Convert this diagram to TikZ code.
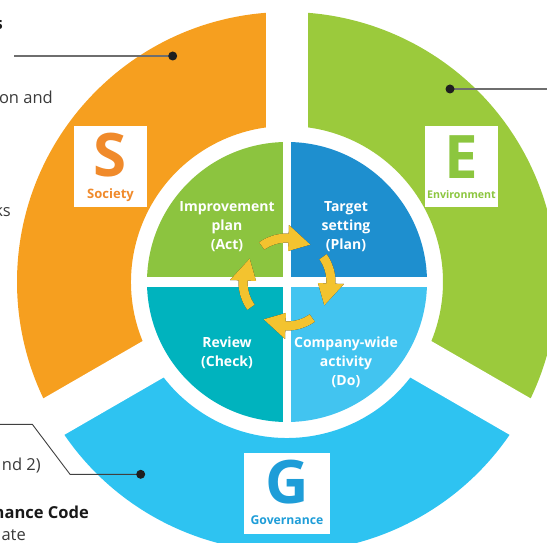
\documentclass[tikz,border=0pt]{standalone}
\usepackage{fontspec}
\setmainfont{Open Sans}
\usetikzlibrary{calc}
\definecolor{cOrange}{HTML}{F69F1F}
\definecolor{cGreen}{HTML}{9BCA3C}
\definecolor{cBlue}{HTML}{2EC3F1}
\definecolor{qAct}{HTML}{8CC43F}
\definecolor{qPlan}{HTML}{1E8FCF}
\definecolor{qCheck}{HTML}{00B3BE}
\definecolor{qDo}{HTML}{42C4F0}
\definecolor{cArrow}{HTML}{F3C32F}
\definecolor{sLetter}{HTML}{F08A2B}
\definecolor{eLetter}{HTML}{8CC63F}
\definecolor{gLetter}{HTML}{1E9DD8}
\definecolor{sideText}{HTML}{3A3A3A}
\definecolor{leaderCol}{HTML}{6E6E6E}
\tikzset{
  quadtext/.style={text=white, align=center, inner sep=0pt,
    font=\bfseries\fontsize{14}{19}\selectfont},
  labelbox/.style={fill=white, minimum width=73pt, minimum height=81pt, inner sep=0pt},
  bigletter/.style={anchor=base, inner sep=0pt, text depth=0pt, font=\bfseries\fontsize{60}{60}\selectfont},
  boxlabel/.style={anchor=base, inner sep=0pt, text height=8pt, font=\bfseries\fontsize{#1}{12}\selectfont},
  sidetext/.style={anchor=base east, inner sep=0pt, text=sideText, font=\fontsize{16.5}{20}\selectfont},
  sidebold/.style={anchor=base east, inner sep=0pt, text=black!90, font=\bfseries\fontsize{16.5}{20}\selectfont},
  leader/.style={draw=leaderCol, line width=1.2pt},
  dotmark/.style={circle, inner sep=0pt, minimum size=9pt},
}
\begin{document}
\begin{tikzpicture}[x=1pt,y=1pt]
\useasboundingbox (0,0) rectangle (547,542);
\clip (0,0) rectangle (547,542);
\coordinate (C) at (287,260);
% outer ring segments
\fill[cOrange] ($(C)+(90:270)$) arc[start angle=90,end angle=210,radius=270]
  -- ($(C)+(210:156)$) arc[start angle=210,end angle=90,radius=156] -- cycle;
\fill[cGreen] ($(C)+(-30:270)$) arc[start angle=-30,end angle=90,radius=270]
  -- ($(C)+(90:156)$) arc[start angle=90,end angle=-30,radius=156] -- cycle;
\fill[cBlue] ($(C)+(210:270)$) arc[start angle=210,end angle=330,radius=270]
  -- ($(C)+(330:156)$) arc[start angle=330,end angle=210,radius=156] -- cycle;
\foreach \a in {90,210,330} \draw[white,line width=42pt] (C) -- ++(\a:330);
% inner disk
\fill[qPlan] (C) -- ++(0:140) arc[start angle=0,end angle=90,radius=140] -- cycle;
\fill[qAct] (C) -- ++(90:140) arc[start angle=90,end angle=180,radius=140] -- cycle;
\fill[qCheck] (C) -- ++(180:140) arc[start angle=180,end angle=270,radius=140] -- cycle;
\fill[qDo] (C) -- ++(270:140) arc[start angle=270,end angle=360,radius=140] -- cycle;
\draw[white,line width=8.5pt] ($(C)+(0,145)$) -- ($(C)+(0,-145)$);
\draw[white,line width=9.5pt] ($(C)+(-145,0)$) -- ($(C)+(145,0)$);
% cycle arrows
\foreach \angA in {125,35,-55,-145}{
  \pgfmathsetmacro\angB{\angA-37}
  \pgfmathsetmacro\angC{\angA-67}
  \begin{scope}[shift={(0.6,-1.6)}]
  \fill[black!90] ($(C)+(\angA:48.5)$) arc[start angle=\angA,end angle=\angB,radius=48.5]
    -- ($(C)+(\angB:57)$) -- ($(C)+(\angC:44)$) -- ($(C)+(\angB:31)$)
    -- ($(C)+(\angB:39.5)$) arc[start angle=\angB,end angle=\angA,radius=39.5] -- cycle;
  \end{scope}
  \fill[cArrow] ($(C)+(\angA:48.5)$) arc[start angle=\angA,end angle=\angB,radius=48.5]
    -- ($(C)+(\angB:57)$) -- ($(C)+(\angC:44)$) -- ($(C)+(\angB:31)$)
    -- ($(C)+(\angB:39.5)$) arc[start angle=\angB,end angle=\angA,radius=39.5] -- cycle;
}
% quadrant texts
\node[quadtext] (act) at (227,315) {Improvement\\plan\\(Act)};
\node[quadtext] (plan) at (346,315) {Target\\setting\\(Plan)};
\node[quadtext] (check) at (227,189) {Review\\(Check)};
\node[quadtext] (do) at (346,180) {Company-wide\\activity\\(Do)};
% label boxes
\node[labelbox] (sbox) at (110.5,375.5) {};
\node[bigletter, text=sLetter] (sletter) at (110.5,365) {S};
\node[boxlabel=13, text=sLetter] (slabel) at (110.5,343) {Society};
\node[labelbox] (ebox) at (461.5,375.5) {};
\node[bigletter, text=eLetter] (eletter) at (461.5,363) {E};
\node[boxlabel=10.6, text=eLetter] (elabel) at (461.5,343) {Environment};
\node[labelbox, minimum width=86pt] (gbox) at (287,48.5) {};
\node[bigletter, text=gLetter] (gletter) at (287,39) {G};
\node[boxlabel=12.2, text=gLetter] (glabel) at (287,18) {Governance};
% leader lines
\node[dotmark] (dotS) at (172.7,486) {};
\node[dotmark] (dotE) at (450,453) {};
\node[dotmark] (dotG) at (140.7,67.7) {};
\coordinate (lS) at (14,486);
\coordinate (lE) at (560,453);
\coordinate (lG1) at (-10,117.7);
\coordinate (lG2) at (32.3,117.7);
\coordinate (lG3) at (70,67.7);
\draw[leader] (lS) -- (dotS.center);
\draw[leader] (dotE.center) -- (lE);
\draw[leader, line width=0.9pt, draw=black!75] (lG1) -- (lG2) -- (lG3) -- (dotG.center);
\fill[black!88] (dotS.center) circle[radius=4.5pt];
\fill[black!88] (dotE.center) circle[radius=4.5pt];
\fill[black!88] (dotG.center) circle[radius=4.5pt];
% cropped side texts
\node[sidebold] (t1) at (3,512) {s};
\node[sidetext] (t2) at (53,438.7) {on and};
\node[sidetext] (t3) at (11,325.3) {ks};
\node[sidetext] (t4) at (41,71.3) {nd 2)};
\node[sidebold] (t5) at (89,23.7) {nance Code};
\node[sidetext] (t6) at (26,2) {ate};
\end{tikzpicture}
\end{document}
